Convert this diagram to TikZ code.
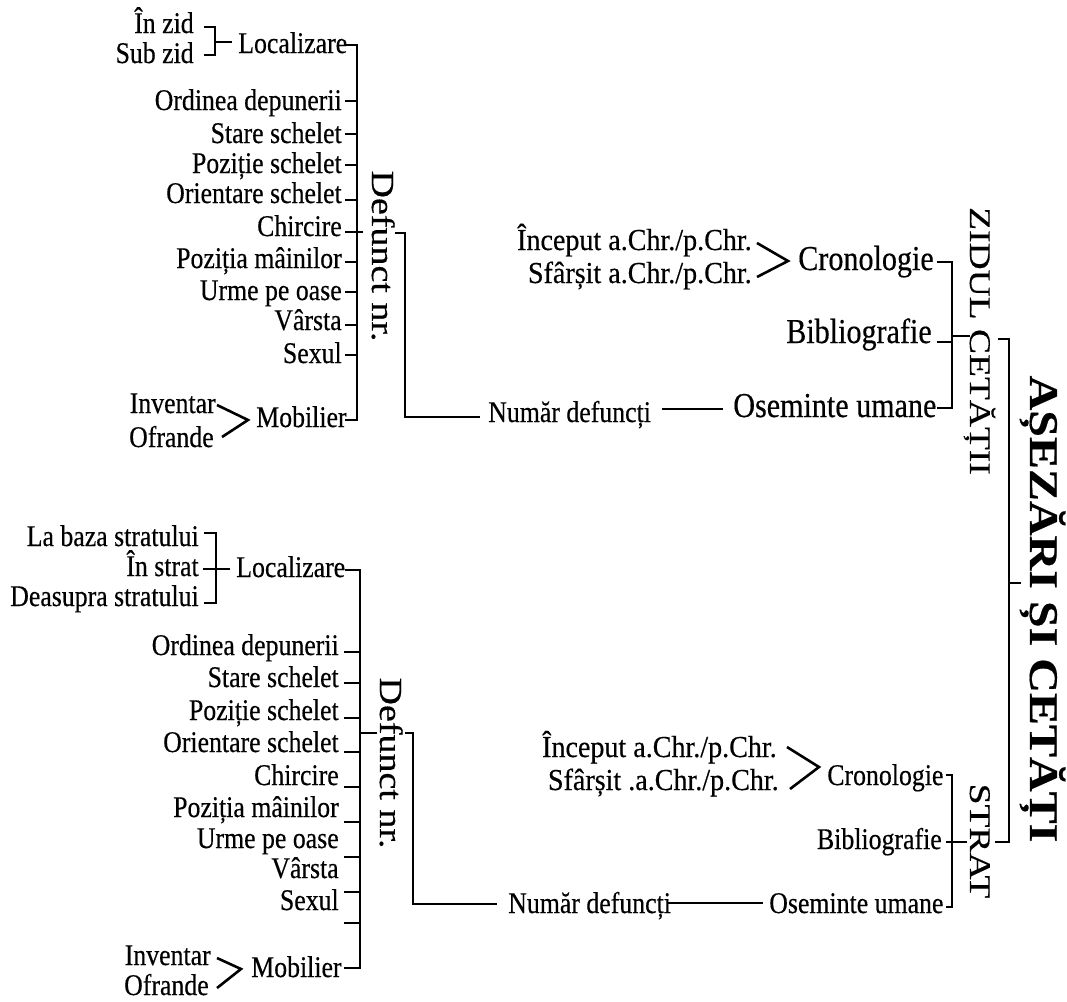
\documentclass[tikz,border=0pt]{standalone}
\usepackage{fontspec}
\setmainfont{Liberation Serif}[FakeStretch=0.86,FakeBold=0.4]
\newfontfamily\datefont{Liberation Serif}[FakeStretch=0.92,FakeBold=0.4]
\newfontfamily\rotfont{Liberation Serif}[FakeBold=0.4]
\begin{document}
\begin{tikzpicture}[x=1pt,y=-1pt,line width=2.6pt,
  lbl/.style={inner sep=0pt,font=\fontsize{30}{32}\selectfont},
  date/.style={inner sep=0pt,font=\datefont\fontsize{30.5}{32}\selectfont},
  big/.style={inner sep=0pt,font=\fontsize{35}{37}\selectfont},
  vert/.style={inner sep=0pt,rotate=-90,anchor=base},
  le/.style={lbl,anchor=base east},
  lw/.style={lbl,anchor=base west}]
\useasboundingbox (0,0) rectangle (1067,1001);

% ---------- upper branch: ZIDUL CETATII ----------
\node[le] (inzid) at (195,33) {În zid};
\node[le] (subzid) at (195,63) {Sub zid};
\node[lw] (locA) at (237,53) {Localizare};
\draw (204,27) -- (215,27) -- (215,55) -- (204,55);
\draw (215,42) -- (232,42);

\node[le] (ordA) at (343,110) {Ordinea depunerii};
\node[le] (stA) at (343,143) {Stare schelet};
\node[le] (pzA) at (343,173) {Poziție schelet};
\node[le] (orA) at (343,203) {Orientare schelet};
\node[le] (chA) at (343,236) {Chircire};
\node[le] (pmA) at (343,268) {Poziția mâinilor};
\node[le] (upA) at (343,300) {Urme pe oase};
\node[le] (vaA) at (343,330) {Vârsta};
\node[le] (sxA) at (343,363) {Sexul};
\node[lw] (moA) at (255,427) {Mobilier};
\node[le] (inA) at (217,413) {Inventar};
\node[le] (ofA) at (215,447) {Ofrande};
\draw (217,405) -- (248,420) -- (222,437);

% spine of the left list
\coordinate (spA) at (357,45);
\draw (345,45) -- (spA) -- (357,420) -- (345,420);
\foreach \y in {101,134,165,200,262,292,325,355}
  \draw (345,\y) -- (357,\y);
\draw (345,232) -- (363,232);

\node[vert,font=\rotfont\fontsize{38}{40}\selectfont] (defA) at (372,256)
  {\scalebox{1}[0.85]{Defunct nr.}};
\draw (395,233) -- (405,233) -- (405,417) -- (480,417);

\node[lw] (ndA) at (487,422) {Număr defuncți};
\node[big,anchor=base west] (osA) at (732,417) {Oseminte umane};
\draw (662,409) -- (723,409);

\node[date,anchor=base east] (icA) at (753,250) {Început a.Chr./p.Chr.};
\node[date,anchor=base east] (sfA) at (753,283) {Sfârșit a.Chr./p.Chr.};
\draw (757,243) -- (788,261) -- (757,277);
\node[big,anchor=base west] (crA) at (797,270) {Cronologie};
\node[big,anchor=base east] (biA) at (933,343) {Bibliografie};

\draw (937,262) -- (952,262) -- (952,408) -- (937,408);
\draw (937,342) -- (952,342);
\draw (952,336) -- (970,336);

\node[vert,font=\rotfont\fontsize{37.5}{40}\selectfont] (zid) at (970,341)
  {\scalebox{1}[0.8]{ZIDUL CETĂȚII}};

% ---------- main bracket and title ----------
\draw (998,339) -- (1009,339) -- (1009,842) -- (995,842);
\draw (1009,583) -- (1021,583);
\node[vert,font=\rotfont\bfseries\fontsize{48}{50}\selectfont] (title) at (1030,609)
  {\scalebox{1}[0.85]{AȘEZĂRI ȘI CETĂȚI}};

% ---------- lower branch: STRAT ----------
\node[le] (baza) at (200,546) {La baza stratului};
\node[le] (instr) at (200,576) {În strat};
\node[le] (deas) at (200,606) {Deasupra stratului};
\draw (204,533) -- (216,533) -- (216,603) -- (204,603);
\draw (203,569) -- (230,569);
\node[lw] (locB) at (235,577) {Localizare};

\node[le] (ordB) at (340,655) {Ordinea depunerii};
\node[le] (stB) at (340,687) {Stare schelet};
\node[le] (pzB) at (340,720) {Poziție schelet};
\node[le] (orB) at (340,752) {Orientare schelet};
\node[le] (chB) at (340,785) {Chircire};
\node[le] (pmB) at (340,817) {Poziția mâinilor};
\node[le] (upB) at (340,848) {Urme pe oase};
\node[le] (vaB) at (340,878) {Vârsta};
\node[le] (sxB) at (340,910) {Sexul};
\node[lw] (moB) at (250,977) {Mobilier};
\node[le] (inB) at (212,965) {Inventar};
\node[le] (ofB) at (210,995) {Ofrande};
\draw (217,958) -- (241,969) -- (217,988);

\coordinate (spB) at (360,570);
\draw (345,570) -- (spB) -- (360,968) -- (344,968);
\foreach \y in {652,683,718,752,787,822,857,892,923}
  \draw (344,\y) -- (360,\y);
\draw (360,733) -- (377,733);

\node[vert,font=\rotfont\fontsize{38}{40}\selectfont] (defB) at (380,763)
  {\scalebox{1}[0.85]{Defunct nr.}};
\draw (405,733) -- (413,733) -- (413,904) -- (497,904);

\node[lw] (ndB) at (507,913) {Număr defuncți};
\node[lw] (osB) at (768,913) {Oseminte umane};
\draw (668,903) -- (763,903);

\node[date,anchor=base east] (icB) at (778,757) {Început a.Chr./p.Chr.};
\node[date,anchor=base east] (sfB) at (780,790) {Sfârșit .a.Chr./p.Chr.};
\draw (787,747) -- (819,767) -- (790,789);
\node[lw] (crB) at (826,785) {Cronologie};
\node[le] (biB) at (943,849) {Bibliografie};

\draw (946,775) -- (952,775) -- (952,907) -- (946,907);
\draw (946,842) -- (967,842);

\node[vert,font=\rotfont\fontsize{37.5}{40}\selectfont] (strat) at (970,841)
  {\scalebox{1}[0.8]{STRAT}};
\end{tikzpicture}
\end{document}
